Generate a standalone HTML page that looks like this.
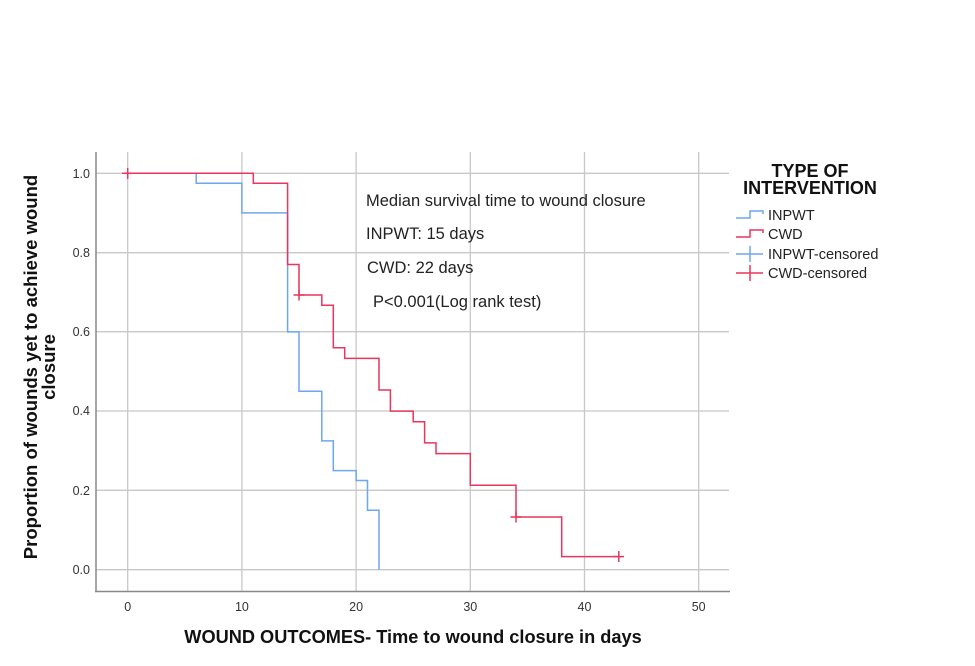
<!DOCTYPE html>
<html><head><meta charset="utf-8"><style>
html,body{margin:0;padding:0;background:#fff;}
svg{display:block;font-family:"Liberation Sans",Arial,sans-serif;}
</style></head><body>
<svg width="975" height="666" viewBox="0 0 975 666">
<g stroke="#c8c8c8" stroke-width="1.3" fill="none">
<line x1="96" y1="173.3" x2="729" y2="173.3"/>
<line x1="96" y1="252.7" x2="729" y2="252.7"/>
<line x1="96" y1="331.7" x2="729" y2="331.7"/>
<line x1="96" y1="411" x2="729" y2="411"/>
<line x1="96" y1="490.3" x2="729" y2="490.3"/>
<line x1="96" y1="569.7" x2="729" y2="569.7"/>
<line x1="127.7" y1="152" x2="127.7" y2="591"/>
<line x1="241.9" y1="152" x2="241.9" y2="591"/>
<line x1="356.1" y1="152" x2="356.1" y2="591"/>
<line x1="470.3" y1="152" x2="470.3" y2="591"/>
<line x1="584.5" y1="152" x2="584.5" y2="591"/>
<line x1="698.7" y1="152" x2="698.7" y2="591"/>
</g>
<g stroke="#888" stroke-width="1.5"><line x1="96" y1="152" x2="96" y2="592"/><line x1="95" y1="591.5" x2="730" y2="591.5"/></g>
<g font-size="12.5" fill="#333" text-anchor="end">
<text x="90" y="178">1.0</text><text x="90" y="257">0.8</text><text x="90" y="336">0.6</text>
<text x="90" y="415">0.4</text><text x="90" y="495">0.2</text><text x="90" y="574">0.0</text>
</g>
<g font-size="12.5" fill="#333" text-anchor="middle">
<text x="127.7" y="611">0</text><text x="241.9" y="611">10</text><text x="356.1" y="611">20</text>
<text x="470.3" y="611">30</text><text x="584.5" y="611">40</text><text x="698.7" y="611">50</text>
</g>
<polyline fill="none" stroke="#6ea6ef" stroke-width="1.5" points="127.7,173.3 196.2,173.3 196.2,183.2 241.9,183.2 241.9,212.9 287.6,212.9 287.6,331.9 299,331.9 299,391.3 321.8,391.3 321.8,440.9 333.3,440.9 333.3,470.6 356.1,470.6 356.1,480.5 367.5,480.5 367.5,510.2 379,510.2 379,569.7"/>
<polyline fill="none" stroke="#e8365e" stroke-width="1.5" points="127.7,173.3 253.3,173.3 253.3,183.2 287.6,183.2 287.6,264.5 299,264.5 299,295 321.8,295 321.8,305.3 333.3,305.3 333.3,347.7 344.7,347.7 344.7,358.4 379,358.4 379,390 390.4,390 390.4,411.1 413.2,411.1 413.2,421.8 424.6,421.8 424.6,442.9 436,442.9 436,453.6 470.3,453.6 470.3,485.3 516,485.3 516,517 561.7,517 561.7,556.6 618.8,556.6"/>
<g stroke="#e8365e" stroke-width="1.5">
<line x1="127.7" y1="168" x2="127.7" y2="179"/><line x1="122" y1="173.3" x2="133" y2="173.3"/>
<line x1="299" y1="289.5" x2="299" y2="300.5"/><line x1="293.5" y1="295" x2="304.5" y2="295"/>
<line x1="516" y1="511.5" x2="516" y2="522.5"/><line x1="510.5" y1="517" x2="521.5" y2="517"/>
<line x1="618.8" y1="551" x2="618.8" y2="562"/><line x1="613" y1="556.6" x2="624" y2="556.6"/>
</g>
<g font-size="16.5" fill="#222">
<text x="366" y="206">Median survival time to wound closure</text>
<text x="366" y="239">INPWT: 15 days</text>
<text x="367" y="273">CWD: 22 days</text>
<text x="373" y="307">P&lt;0.001(Log rank test)</text>
</g>
<g font-size="18" font-weight="bold" fill="#111" text-anchor="middle">
<text x="810" y="177">TYPE OF</text><text x="810" y="194">INTERVENTION</text>
</g>
<g fill="none" stroke-width="1.5">
<polyline stroke="#6ea6ef" points="736,218 750,218 750,211 763,211 763,214"/>
<polyline stroke="#e8365e" points="736,237 750,237 750,230 763,230 763,233"/>
<line stroke="#6ea6ef" x1="736" y1="254" x2="763" y2="254"/><line stroke="#6ea6ef" x1="750" y1="246" x2="750" y2="262"/>
<line stroke="#e8365e" x1="736" y1="273" x2="763" y2="273"/><line stroke="#e8365e" x1="750" y1="265" x2="750" y2="281"/>
</g>
<g font-size="14.5" fill="#222">
<text x="768" y="220">INPWT</text><text x="768" y="239">CWD</text>
<text x="768" y="259">INPWT-censored</text><text x="768" y="278">CWD-censored</text>
</g>
<text x="413" y="643" font-size="18.2" font-weight="bold" fill="#111" text-anchor="middle">WOUND OUTCOMES- Time to wound closure in days</text>
<g font-size="18.5" font-weight="bold" fill="#111" text-anchor="middle" transform="translate(0,367) rotate(-90)">
<text x="0" y="37">Proportion of wounds yet to achieve wound</text>
<text x="0" y="55">closure</text>
</g>
</svg>
</body></html>
